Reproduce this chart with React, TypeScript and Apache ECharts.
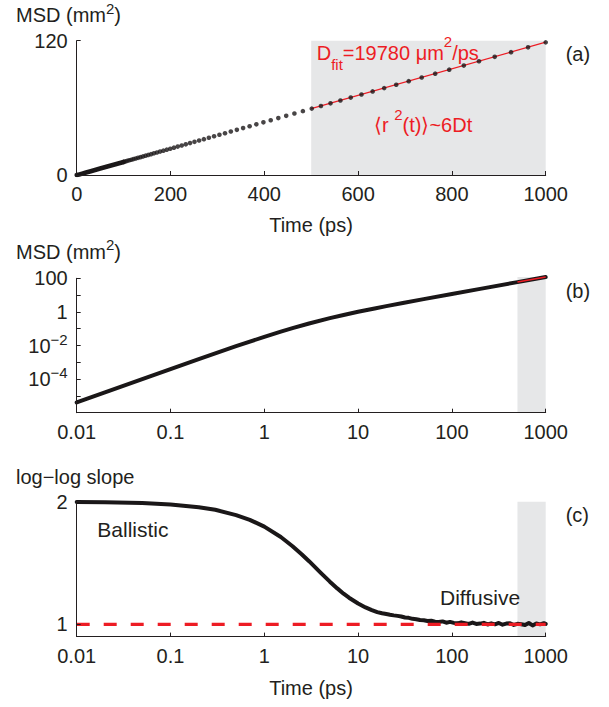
import React, { useEffect, useRef } from 'react';
import * as echarts from 'echarts';

const FONT = "'Liberation Sans', Arial, Helvetica, sans-serif";
const INK = '#231f20';
const MARK = '#1a1718';
const RED = '#ed1c24';
const SHADE = '#e6e7e8';

// Fit window (ps) shaded in every panel
const fitWindow = [500, 1000];

// Linear fit <r^2(t)> = 6 D t with D = 19780 µm²/ps (values in mm²)
const fitTimes = [500, 1000];
const fitMsd = [59.34, 118.68];

// Sampled MSD points drawn as dots in panel (a), t in ps, MSD in mm²
const dotTimes = [
  100, 103.9, 108.0, 112.2, 116.6, 121.2, 125.9, 130.8, 135.9, 141.3,
  146.8, 152.5, 158.5, 164.7, 171.1, 177.8, 184.8, 192.0, 199.5, 207.3,
  215.4, 223.9, 232.6, 241.7, 251.2, 261.0, 271.2, 281.8, 292.9, 304.3,
  316.2, 328.6, 341.5, 354.8, 368.7, 383.1, 398.1, 413.7, 429.9, 446.7,
  464.2, 482.3, 501.2, 520.8, 541.2, 562.3, 584.3, 607.2, 631.0, 655.6,
  681.3, 707.9, 735.6, 764.4, 794.3, 825.4, 857.7, 891.3, 926.1, 962.4,
  1000,
];
const dotMsd = [
  11.70, 12.16, 12.64, 13.14, 13.67, 14.21, 14.77, 15.35, 15.96, 16.60,
  17.25, 17.93, 18.64, 19.37, 20.13, 20.93, 21.76, 22.61, 23.50, 24.43,
  25.39, 26.40, 27.43, 28.51, 29.64, 30.80, 32.01, 33.27, 34.59, 35.94,
  37.35, 38.83, 40.36, 41.93, 43.58, 45.29, 47.07, 48.93, 50.85, 52.84,
  54.92, 57.07, 59.31, 61.64, 64.06, 66.56, 69.17, 71.89, 74.71, 77.63,
  80.68, 83.84, 87.13, 90.55, 94.09, 97.79, 101.62, 105.61, 109.74, 114.05,
  118.51,
];

// MSD over the full time range (panel b, and the dense start of panel a)
const msdTimes = [
  0.01, 0.02, 0.05, 0.1, 0.2, 0.5, 1, 1.5, 2, 3, 5, 7, 10, 15, 20, 30, 50,
  100, 200, 500, 1000,
];
const msdValues = [
  4.06e-6, 1.62e-5, 1.005e-4, 3.97e-4, 1.554e-3, 9.10e-3, 0.0328, 0.0668,
  0.108, 0.205, 0.426, 0.659, 1.014, 1.607, 2.2, 3.387, 5.761, 11.69, 23.56,
  59.17, 118.5,
];

// Local log-log slope of the MSD (panel c)
const slopeTimes = [
  0.01, 0.02, 0.05, 0.1, 0.2, 0.3, 0.5, 0.7, 1, 1.5, 2, 2.5, 3, 4, 5, 6, 7, 8,
  10, 12, 14, 16, 18, 20, 21.88, 23.99, 26.3, 28.84, 31.62, 34.67, 38.02,
  41.69, 45.71, 50.12, 54.95, 60.26, 66.07, 72.44, 79.43, 87.1, 95.5, 104.7,
  114.8, 125.9, 138.0, 151.4, 166.0, 182.0, 199.5, 218.8, 239.9, 263.0, 288.4,
  316.2, 346.7, 380.2, 416.9, 457.1, 501.2, 549.5, 602.6, 660.7, 724.4, 794.3,
  871.0, 955.0, 1000,
];
const slopeValues = [
  1.998, 1.995, 1.989, 1.978, 1.955, 1.934, 1.891, 1.852, 1.797, 1.712, 1.637,
  1.572, 1.515, 1.42, 1.348, 1.293, 1.25, 1.217, 1.17, 1.138, 1.116, 1.1,
  1.09, 1.084, 1.078, 1.073, 1.069, 1.064, 1.056, 1.053, 1.045, 1.042, 1.035,
  1.033, 1.027, 1.029, 1.021, 1.019, 1.024, 1.013, 1.02, 1.012, 1.008, 1.016,
  1.01, 1.004, 1.014, 1.003, 1.006, 1.012, 0.999, 1.008, 1.0, 1.011, 0.997,
  1.006, 1.009, 0.995, 1.004, 1.001, 0.994, 1.011, 0.991, 1.007, 1.0, 1.009,
  1.003,
];

const logTickLabels = ['0.01', '0.1', '1', '10', '100', '1000'];

const log10 = (v: number) => Math.log10(v);

function shadeSeries(xIdx: number, x0: number, x1: number, y0: number, y1: number) {
  return {
    type: 'custom',
    xAxisIndex: xIdx,
    yAxisIndex: xIdx,
    silent: true,
    clip: false,
    z: 1,
    data: [[x0, x1, y0, y1]],
    renderItem: (_p: any, api: any) => {
      const a = api.coord([api.value(0), api.value(3)]);
      const b = api.coord([api.value(1), api.value(2)]);
      return {
        type: 'rect',
        shape: { x: a[0], y: a[1], width: b[0] - a[0], height: b[1] - a[1] },
        style: { fill: SHADE },
      };
    },
  };
}

function txt(text: string, x: number, y: number, opts: any = {}) {
  const align = opts.align || 'left';
  return {
    type: 'text',
    x,
    y,
    z: 20,
    silent: true,
    style: {
      text,
      fill: opts.fill || INK,
      fontSize: opts.fontSize || 20,
      fontFamily: FONT,
      lineHeight: opts.lineHeight || 24,
      align,
      textAlign: align,
      verticalAlign: 'middle',
      textVerticalAlign: 'middle',
      rich: opts.rich,
    },
  };
}

export default function App() {
  const ref = useRef<HTMLDivElement>(null);

  useEffect(() => {
    if (!ref.current) return;
    const chart = echarts.init(ref.current, undefined, { renderer: 'svg' });

    const axisLine = { show: true, onZero: false, lineStyle: { color: INK, width: 1 } };
    const axisTick = { show: true, inside: true, length: 4, lineStyle: { color: INK, width: 1 } };
    const label = { color: INK, fontFamily: FONT, fontSize: 20, margin: 9 };
    const supRich = {
      sup: { fontSize: 15, lineHeight: 15, verticalAlign: 'top', fontFamily: FONT, color: INK, fill: INK },
    };

    const L = 76.7;
    const W = 469;

    const logX = (gridIndex: number) => ({
      gridIndex,
      type: 'value',
      min: -2,
      max: 3,
      interval: 1,
      z: 5,
      axisLine,
      axisTick,
      splitLine: { show: false },
      axisLabel: { ...label, formatter: (v: number) => logTickLabels[Math.round(v) + 2] },
    });

    const denseA = msdTimes
      .map((t, i) => [t, msdValues[i]])
      .filter((p) => p[0] <= dotTimes[0]);

    const option: any = {
      animation: false,
      backgroundColor: '#ffffff',
      textStyle: { fontFamily: FONT },
      grid: [
        { left: L, top: 40.7, width: W, height: 134.3, outerBoundsMode: 'none', containLabel: false },
        { left: L, top: 278.3, width: W, height: 134.4, outerBoundsMode: 'none', containLabel: false },
        { left: L, top: 501.7, width: W, height: 134.9, outerBoundsMode: 'none', containLabel: false },
      ],
      xAxis: [
        {
          gridIndex: 0,
          type: 'value',
          min: 0,
          max: 1000,
          interval: 200,
          z: 5,
          axisLine,
          axisTick,
          splitLine: { show: false },
          axisLabel: { ...label, formatter: (v: number) => String(Math.round(v)) },
        },
        logX(1),
        logX(2),
      ],
      yAxis: [
        {
          gridIndex: 0,
          type: 'value',
          min: 0,
          max: 120,
          z: 5,
          axisLine,
          axisTick: { ...axisTick, customValues: [0, 120] },
          splitLine: { show: false },
          axisLabel: { ...label, customValues: [0, 120] },
        },
        {
          gridIndex: 1,
          type: 'value',
          min: -6,
          max: 2,
          z: 5,
          axisLine,
          axisTick: { ...axisTick, customValues: [-6, -5, -4, -3, -2, -1, 0, 1, 2] },
          splitLine: { show: false },
          axisLabel: {
            ...label,
            lineHeight: 28,
            customValues: [-4, -2, 0, 2],
            formatter: (v: number) => {
              const e = Math.round(v);
              return e >= 0 ? String(Math.pow(10, e)) : `10{sup|\u2212${-e}}`;
            },
            rich: supRich,
          },
        },
        {
          gridIndex: 2,
          type: 'value',
          min: 0.9,
          max: 2,
          z: 5,
          axisLine,
          axisTick: { ...axisTick, customValues: [1, 2] },
          splitLine: { show: false },
          axisLabel: { ...label, customValues: [1, 2] },
        },
      ],
      series: [
        // (a) linear MSD
        shadeSeries(0, fitWindow[0], fitWindow[1], 0, 120),
        {
          type: 'line',
          xAxisIndex: 0,
          yAxisIndex: 0,
          data: denseA,
          symbol: 'none',
          z: 3,
          lineStyle: { color: MARK, width: 4.6, cap: 'round' },
        },
        {
          type: 'line',
          xAxisIndex: 0,
          yAxisIndex: 0,
          data: fitTimes.map((t, i) => [t, fitMsd[i]]),
          symbol: 'none',
          z: 3,
          lineStyle: { color: RED, width: 1.2 },
        },
        {
          type: 'scatter',
          xAxisIndex: 0,
          yAxisIndex: 0,
          data: dotTimes.map((t, i) => [t, dotMsd[i]]),
          symbol: 'circle',
          symbolSize: 4.6,
          z: 4,
          clip: false,
          itemStyle: { color: MARK },
        },
        // (b) log-log MSD
        shadeSeries(1, log10(fitWindow[0]), log10(fitWindow[1]), -6, log10(msdValues[msdValues.length - 1])),
        {
          type: 'line',
          xAxisIndex: 1,
          yAxisIndex: 1,
          data: msdTimes.map((t, i) => [log10(t), log10(msdValues[i])]),
          symbol: 'none',
          clip: false,
          z: 3,
          lineStyle: { color: MARK, width: 4, cap: 'round' },
        },
        {
          type: 'line',
          xAxisIndex: 1,
          yAxisIndex: 1,
          data: fitTimes.map((t, i) => [log10(t), log10(fitMsd[i])]),
          symbol: 'none',
          clip: false,
          z: 4,
          lineStyle: { color: RED, width: 1.5 },
        },
        // (c) log-log slope
        shadeSeries(2, log10(fitWindow[0]), log10(fitWindow[1]), 0.9, 2),
        {
          type: 'line',
          xAxisIndex: 2,
          yAxisIndex: 2,
          data: slopeTimes.map((t, i) => [log10(t), slopeValues[i]]),
          symbol: 'none',
          clip: false,
          z: 3,
          lineStyle: { color: MARK, width: 4, cap: 'round', join: 'round' },
        },
        {
          type: 'line',
          xAxisIndex: 2,
          yAxisIndex: 2,
          data: [
            [-2, 1],
            [3, 1],
          ],
          symbol: 'none',
          z: 4,
          lineStyle: { color: RED, width: 3.3, type: [13, 14] },
        },
      ],
      graphic: [
        txt('MSD (mm{sup|2})', 16, 14.5, { lineHeight: 27, rich: supRich }),
        txt('MSD (mm{sup|2})', 16, 251.7, { lineHeight: 29, rich: supRich }),
        txt('log\u2212log slope', 16, 477),
        txt('Time (ps)', 311, 225, { align: 'center' }),
        txt('Time (ps)', 311, 688, { align: 'center' }),
        txt('(a)', 565.7, 54),
        txt('(b)', 565.7, 291),
        txt('(c)', 565.7, 515),
        txt('Ballistic', 97.3, 529.5, { fontSize: 21 }),
        txt('Diffusive', 440, 597.5, { fontSize: 21 }),
        txt('D{sub|fit}=19780 \u03bcm{sup|2}/ps', 316.7, 53.3, {
          fill: RED,
          lineHeight: 38,
          rich: {
            sub: { fontSize: 15, lineHeight: 15, verticalAlign: 'bottom', fontFamily: FONT, fill: RED, color: RED },
            sup: { fontSize: 15, lineHeight: 15, verticalAlign: 'top', fontFamily: FONT, fill: RED, color: RED },
          },
        }),
        txt('\u27e8r {sup|2}(t)\u27e9~6Dt', 374, 125, {
          fill: RED,
          lineHeight: 36,
          rich: {
            sup: { fontSize: 15, lineHeight: 15, verticalAlign: 'top', fontFamily: FONT, fill: RED, color: RED },
          },
        }),
      ],
    };

    chart.setOption(option);
    return () => chart.dispose();
  }, []);

  return (
    <div
      ref={ref}
      style={{ position: 'absolute', left: 0, top: 0, width: 609, height: 707, background: '#fff' }}
    />
  );
}
